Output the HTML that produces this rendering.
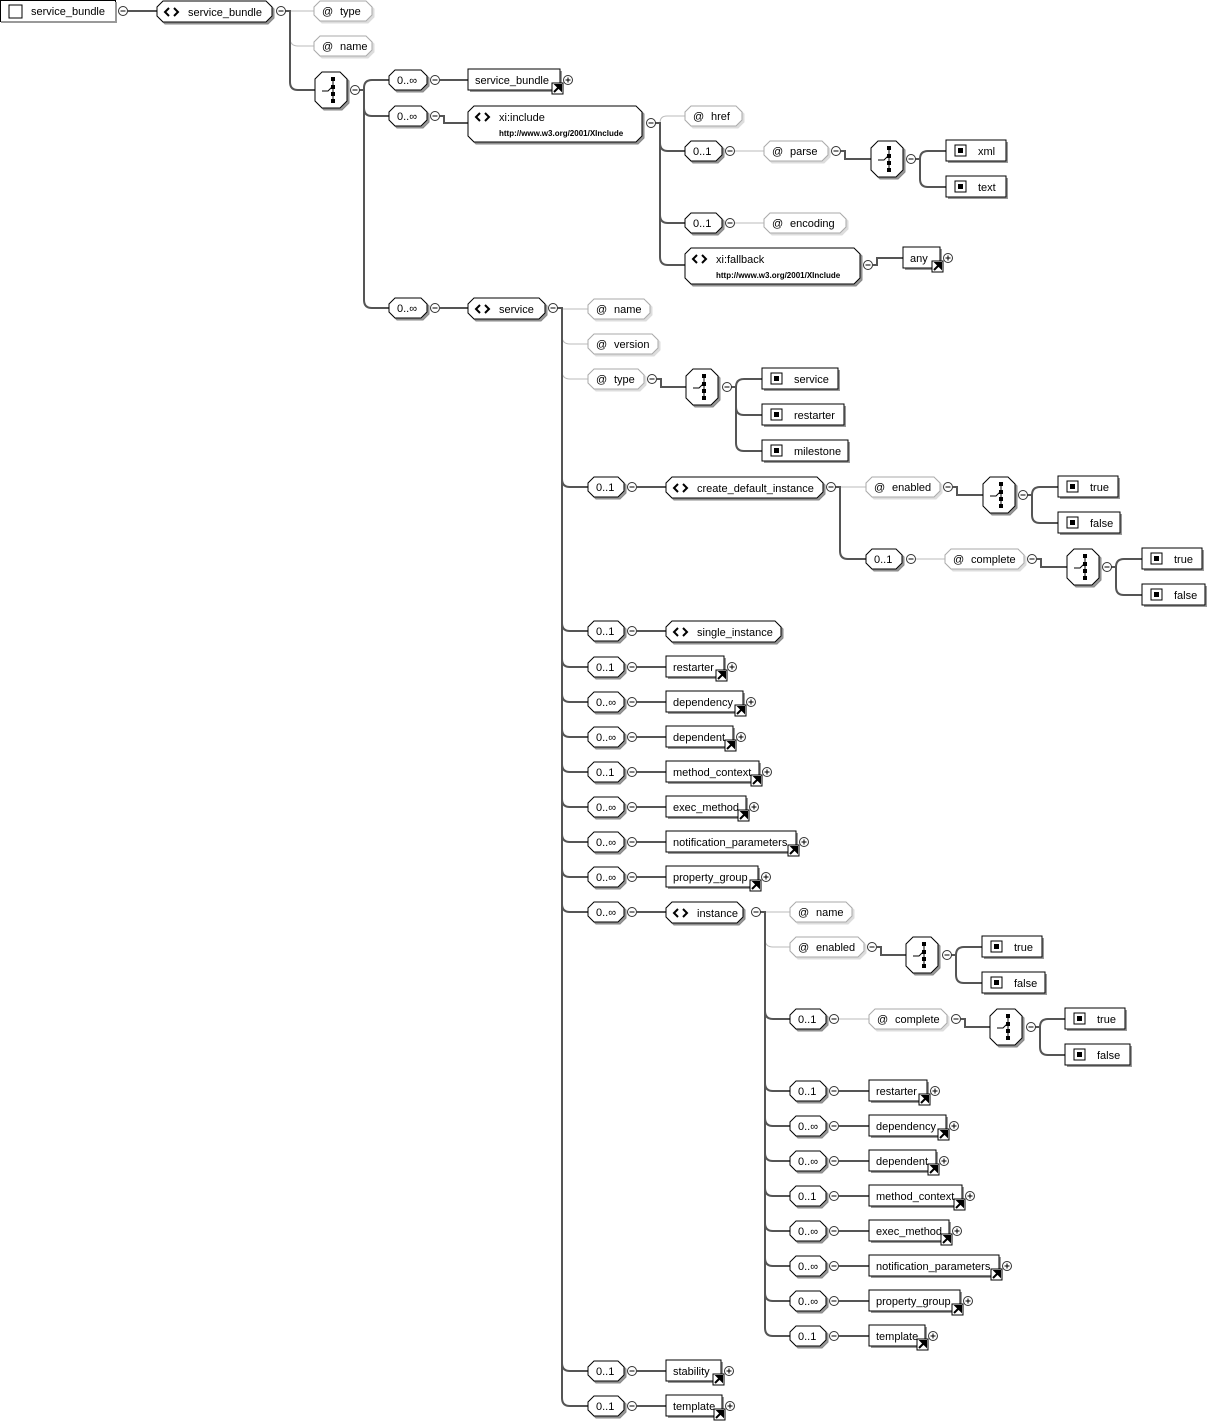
<!DOCTYPE html>
<html><head><meta charset="utf-8">
<style>html,body{margin:0;padding:0;background:#fff;width:1212px;height:1423px;overflow:hidden}
svg text{font-family:"Liberation Sans",sans-serif;font-size:11px;fill:#000}</style></head>
<body>
<svg id="s" width="1212" height="1423" xmlns="http://www.w3.org/2000/svg"></svg>
<script>
var L=[],F=[];
function ch(x1,t,x2,b,c){c=c||5;return [x1+c,t,x2-c,t,x2,t+c,x2,b-c,x2-c,b,x1+c,b,x1,b-c,x1,t+c].join(',');}
function poly(p,st,fill,dx){F.push('<polygon points="'+p+'" fill="'+fill+'" stroke="'+st+'" stroke-width="1"'+(dx?' transform="translate('+dx+','+dx+')"':'')+'/>');}
function txt(x,y,s,sz,w){F.push('<text x="'+x+'" y="'+y+'"'+(sz?' style="font-size:'+sz+'px'+(w?';font-weight:bold':'')+'"':'')+'>'+s+'</text>');}
function minus(x,y){F.push('<circle cx="'+x+'" cy="'+y+'" r="4.5" fill="#fff" stroke="#333"/><line x1="'+(x-2.5)+'" y1="'+y+'" x2="'+(x+2.5)+'" y2="'+y+'" stroke="#000"/>');}
function plus(x,y){minus(x,y);F.push('<line x1="'+x+'" y1="'+(y-2.5)+'" x2="'+x+'" y2="'+(y+2.5)+'" stroke="#000"/>');}
function tagicon(x,y){F.push('<path d="M'+(x+4)+','+(y-4)+' L'+x+','+y+' L'+(x+4)+','+(y+4)+' M'+(x+9)+','+(y-4)+' L'+(x+13)+','+y+' L'+(x+9)+','+(y+4)+'" fill="none" stroke="#000" stroke-width="2"/>');}
function elem(x1,x2,t,b,label,ns){var p=ch(x1,t,x2,b,6);poly(p,'#888','#999',2);poly(p,'#000','#fff');
 tagicon(x1+8,t+11);txt(x1+31,t+15,label);if(ns)txt(x1+31,t+30,ns,8,1);}
function attr(x1,x2,cy,label){var p=ch(x1,cy-10,x2,cy+10,6);poly(p,'#ddd','#ddd',2);poly(p,'#aaa','#fff');txt(x1+8,cy+4,'@');txt(x1+26,cy+4,label);}
function card(x1,x2,cy,label){var p=ch(x1,cy-10,x2,cy+10,6);poly(p,'#888','#999',2);poly(p,'#000','#fff');txt(x1+8,cy+4,label);}
function choice(x,t){var p=ch(x,t,x+32,t+36,7);poly(p,'#888','#999',2);poly(p,'#000','#fff');
 var cx=x+18;F.push('<line x1="'+cx+'" y1="'+(t+6)+'" x2="'+cx+'" y2="'+(t+30)+'" stroke="#000"/>');
 [t+7,t+15,t+22,t+29].forEach(function(yy){F.push('<rect x="'+(cx-2)+'" y="'+(yy-2)+'" width="4" height="4" fill="#000"/>');});
 F.push('<path d="M'+(x+7)+','+(t+19)+' L'+(x+13)+','+(t+19)+' L'+cx+','+(t+14)+'" fill="none" stroke="#000"/>');}
function ref(x1,x2,cy,label){F.push('<rect x="'+(x1+2)+'" y="'+(cy-9)+'" width="'+(x2-x1)+'" height="21" fill="#999"/>');
 F.push('<rect x="'+x1+'" y="'+(cy-11)+'" width="'+(x2-x1)+'" height="21" fill="#fff" stroke="#000"/>');txt(x1+7,cy+4,label);
 var ax=x2-8,ay=cy+3;F.push('<rect x="'+ax+'" y="'+ay+'" width="11" height="11" fill="#fff" stroke="#000"/><path d="M'+(ax+2)+','+(ay+9)+' L'+(ax+8)+','+(ay+3)+' M'+(ax+4)+','+(ay+2)+' L'+(ax+9)+','+(ay+2)+' L'+(ax+9)+','+(ay+7)+'Z" stroke="#000" stroke-width="2" fill="#000"/>');
 plus(x2+8,cy);}
function en(x1,x2,cy,label){F.push('<rect x="'+(x1+2)+'" y="'+(cy-9)+'" width="'+(x2-x1)+'" height="21" fill="#999"/>');
 F.push('<rect x="'+x1+'" y="'+(cy-11)+'" width="'+(x2-x1)+'" height="21" fill="#fff" stroke="#000"/>');
 F.push('<rect x="'+(x1+9)+'" y="'+(cy-6)+'" width="11" height="11" fill="#fff" stroke="#000"/><rect x="'+(x1+12)+'" y="'+(cy-3)+'" width="5" height="5" fill="#000"/>');txt(x1+32,cy+4,label);}
function br(tx,py,cy,cx,light){var c=light?'#bbb':'#555',w=light?1:2;
 if(Math.abs(cy-py)<1){L.push('<line x1="'+(tx-9)+'" y1="'+py+'" x2="'+cx+'" y2="'+cy+'" stroke="'+c+'" stroke-width="'+w+'"/>');return;}
 var r=Math.min(8,Math.abs(cy-py));var s=cy>py?1:-1;
 L.push('<path d="M'+(tx-9)+','+py+' H'+tx+' V'+(cy-s*r)+' Q'+tx+','+cy+' '+(tx+r)+','+cy+' H'+cx+'" fill="none" stroke="'+c+'" stroke-width="'+w+'"/>');}
function hl(x1,x2,y,light){L.push('<line x1="'+x1+'" y1="'+y+'" x2="'+x2+'" y2="'+y+'" stroke="'+(light?'#bbb':'#555')+'" stroke-width="'+(light?1:2)+'"/>');}
function step(x1,y1,x2,y2){L.push('<path d="M'+x1+','+y1+' H'+(x1+4)+' V'+y2+' H'+x2+'" fill="none" stroke="#555" stroke-width="2"/>');}

F.push('<rect x="0.5" y="0.5" width="115" height="21" fill="#fff" stroke="#000"/><rect x="1" y="21" width="116" height="2" fill="#999"/><rect x="115" y="2" width="2" height="21" fill="#999"/>');
F.push('<rect x="9" y="5" width="13" height="13" fill="#fff" stroke="#000"/>');txt(31,15,'service_bundle');
minus(123,11);hl(128,157,11);
elem(157,272,1,22,'service_bundle');minus(281,11);
br(290,11,11,314,1);br(290,11,46,314,1);br(290,11,90,315);
attr(314,372,11,'type');attr(314,372,46,'name');choice(315,72);minus(355,90);
[80,116,308].forEach(function(y){br(364,90,y,389);});
card(389,427,80,'0..∞');minus(435,80);hl(440,468,80);ref(468,560,80,'service_bundle');
card(389,427,116,'0..∞');minus(435,116);step(440,116,468,123);
elem(468,642,106,142,'xi:include','http://www.w3.org/2001/XInclude');minus(651,123);
br(660,123,116,685,1);[151,223,265].forEach(function(y){br(660,123,y,685);});
attr(685,742,116,'href');
card(685,722,151,'0..1');minus(730,151);hl(735,764,151,1);attr(764,828,151,'parse');minus(836,151);step(841,151,871,159);
choice(871,141);minus(911,159);br(920,159,151,946);br(920,159,187,946);en(946,1006,151,'xml');en(946,1006,187,'text');
card(685,722,223,'0..1');minus(730,223);hl(735,764,223,1);attr(764,846,223,'encoding');
elem(685,860,248,284,'xi:fallback','http://www.w3.org/2001/XInclude');minus(868,265);step(873,265,903,258);ref(903,940,258,'any');
card(389,427,308,'0..∞');minus(435,308);hl(440,468,308);
elem(468,545,298,319,'service');minus(553,308);
[309,344,379].forEach(function(y){br(562,308,y,588,1);});
var srv=[[487],[631],[667],[702],[737],[772],[807],[842],[877],[912],[1371],[1406]];
srv.forEach(function(a){br(562,308,a[0],588);});
attr(588,650,309,'name');attr(588,658,344,'version');attr(588,644,379,'type');minus(652,379);step(657,379,686,387);
choice(686,369);minus(727,387);[379,415,451].forEach(function(y){br(736,387,y,762);});
en(762,838,379,'service');en(762,844,415,'restarter');en(762,848,451,'milestone');
card(588,624,487,'0..1');minus(632,487);hl(637,666,487);elem(666,823,477,498,'create_default_instance');minus(831,487);
br(840,487,487,866,1);br(840,487,559,866);attr(866,940,487,'enabled');minus(948,487);step(953,487,983,495);
choice(983,477);minus(1023,495);br(1032,495,487,1058);br(1032,495,523,1058);en(1058,1118,487,'true');en(1058,1120,523,'false');
card(866,902,559,'0..1');minus(911,559);hl(916,945,559,1);attr(945,1024,559,'complete');minus(1032,559);step(1037,559,1067,567);
choice(1067,549);minus(1107,567);br(1116,567,559,1142);br(1116,567,595,1142);en(1142,1202,559,'true');en(1142,1205,595,'false');
card(588,624,631,'0..1');minus(632,631);hl(637,666,631);elem(666,781,621,642,'single_instance');
var refs=[[667,'0..1','restarter',724],[702,'0..∞','dependency',743],[737,'0..∞','dependent',733],[772,'0..1','method_context',759],[807,'0..∞','exec_method',746],[842,'0..∞','notification_parameters',796],[877,'0..∞','property_group',758],[1371,'0..1','stability',721],[1406,'0..1','template',722]];
refs.forEach(function(r){card(588,624,r[0],r[1]);minus(632,r[0]);hl(637,666,r[0]);ref(666,r[3],r[0],r[2]);});
card(588,624,912,'0..∞');minus(632,912);hl(637,666,912);elem(666,743,902,923,'instance');minus(756,912);
br(765,912,912,790,1);br(765,912,947,790,1);
attr(790,852,912,'name');attr(790,864,947,'enabled');minus(872,947);step(877,947,906,955);
choice(906,937);minus(947,955);br(956,955,947,982);br(956,955,983,982);en(982,1042,947,'true');en(982,1045,983,'false');
br(765,912,1019,790);card(790,826,1019,'0..1');minus(834,1019);hl(839,869,1019,1);attr(869,947,1019,'complete');minus(956,1019);step(961,1019,990,1027);
choice(990,1009);minus(1031,1027);br(1040,1027,1019,1065);br(1040,1027,1055,1065);en(1065,1125,1019,'true');en(1065,1130,1055,'false');
var ir=[[1091,'0..1','restarter',927],[1126,'0..∞','dependency',946],[1161,'0..∞','dependent',936],[1196,'0..1','method_context',962],[1231,'0..∞','exec_method',949],[1266,'0..∞','notification_parameters',999],[1301,'0..∞','property_group',960],[1336,'0..1','template',925]];
ir.forEach(function(r){br(765,912,r[0],790);card(790,826,r[0],r[1]);minus(834,r[0]);hl(839,869,r[0]);ref(869,r[3],r[0],r[2]);});
document.getElementById('s').innerHTML=L.join('')+F.join('');
</script>
</body></html>
